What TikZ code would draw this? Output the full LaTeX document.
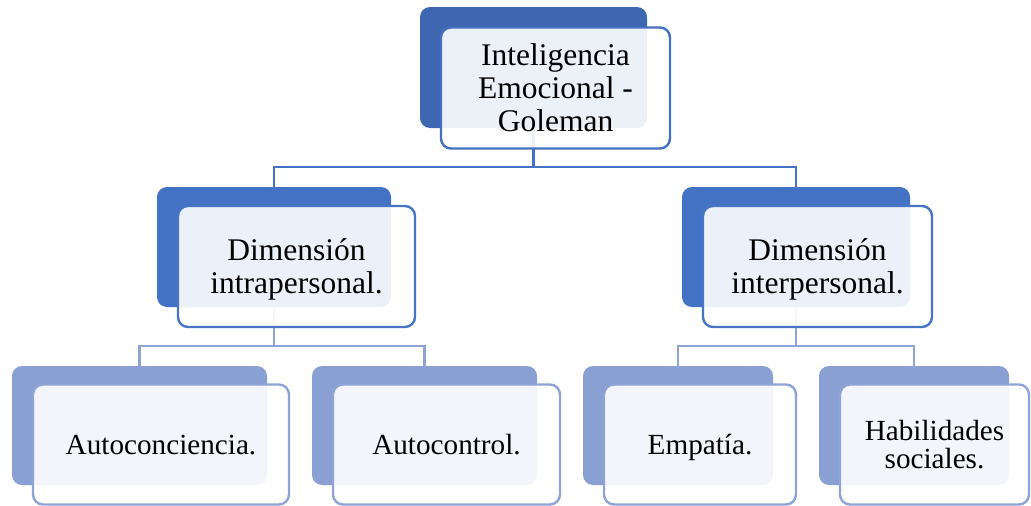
\documentclass[tikz,border=0pt]{standalone}
\usepackage{fontspec}
\setmainfont{Liberation Serif}
\definecolor{lvA}{HTML}{3E67B1}
\definecolor{lvB}{HTML}{4472C4}
\definecolor{lvC}{HTML}{8A9FD2}
\definecolor{lnA}{HTML}{4472C4}
\definecolor{lnC}{HTML}{8EA4D6}
\definecolor{bdA}{HTML}{4370BF}
\definecolor{bdB}{HTML}{4774C5}
\definecolor{bdC}{HTML}{8EA4D6}
\newcommand\tst{\rule{0pt}{0.891em}}
\newcommand\bst{\rule[-0.216em]{0pt}{0.216em}}
\begin{document}
\begin{tikzpicture}[x=1pt,y=-1pt,
  backbox/.style={rectangle, rounded corners=10pt, inner sep=0pt, outer sep=0pt, draw=none},
  frontbox/.style={rectangle, rounded corners=10pt, draw, line width=2.4pt, fill=white, fill opacity=0.9, text opacity=1, inner sep=0pt, outer sep=0pt, align=center, text=black},
  bigtxt/.style={font=\fontsize{31.5}{33}\selectfont},
  smalltxt/.style={font=\fontsize{29.2}{28.5}\selectfont},
  conn/.style={line width=2.2pt}]
\useasboundingbox (0,0) rectangle (1031,506);
% back boxes
\node[backbox, fill=lvA, minimum width=227pt, minimum height=121pt] (b1) at (533.5,67.5) {};
\node[backbox, fill=lvB, minimum width=234pt, minimum height=120pt] (b2) at (274,247) {};
\node[backbox, fill=lvB, minimum width=228pt, minimum height=120pt] (b3) at (796,247) {};
\node[backbox, fill=lvC, minimum width=255pt, minimum height=119pt] (b4) at (139.5,425.5) {};
\node[backbox, fill=lvC, minimum width=225pt, minimum height=119pt] (b5) at (424.5,425.5) {};
\node[backbox, fill=lvC, minimum width=190pt, minimum height=119pt] (b6) at (678,425.5) {};
\node[backbox, fill=lvC, minimum width=190pt, minimum height=119pt] (b7) at (914,425.5) {};
% connectors
\coordinate (bus1) at (533.5,167);
\coordinate (bus2) at (274,346);
\coordinate (bus3) at (796,346);
\draw[conn, draw=lnA] (b1.south) -- (bus1) -| (b2.north);
\draw[conn, draw=lnA] (bus1) -| (b3.north);
\draw[conn, draw=lnC] (b2.south) -- (bus2) -| (b4.north);
\draw[conn, draw=lnC] (bus2) -| (b5.north);
\draw[conn, draw=lnC] (b3.south) -- (bus3) -| (b6.north);
\draw[conn, draw=lnC] (bus3) -| (b7.north);
% front boxes
\node[frontbox, draw=bdA, bigtxt, minimum width=229pt, minimum height=121pt] (f1) at (555.5,88)
  {\tst Inteligencia\\Emocional -\\Goleman\bst};
\node[frontbox, draw=bdB, bigtxt, minimum width=237pt, minimum height=121pt] (f2) at (296.5,266.5)
  {\tst Dimensión\\intrapersonal.\bst};
\node[frontbox, draw=bdB, bigtxt, minimum width=229pt, minimum height=121pt] (f3) at (817.5,266.5)
  {\tst Dimensión\\interpersonal.\bst};
\node[frontbox, draw=bdC, smalltxt, minimum width=256pt, minimum height=120pt] (f4) at (161,444.5)
  {\tst Autoconciencia.\bst};
\node[frontbox, draw=bdC, smalltxt, minimum width=227pt, minimum height=120pt] (f5) at (446.5,444.5)
  {\tst Autocontrol.\bst};
\node[frontbox, draw=bdC, smalltxt, minimum width=192pt, minimum height=120pt] (f6) at (700,444.5)
  {\tst Empatía.\bst};
\node[frontbox, draw=bdC, smalltxt, minimum width=189pt, minimum height=120pt] (f7) at (934.5,444.5)
  {\tst Habilidades\\sociales.\bst};
\end{tikzpicture}
\end{document}
